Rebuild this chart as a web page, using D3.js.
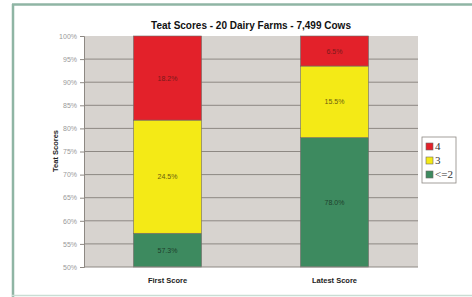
<!DOCTYPE html>
<html><head><meta charset="utf-8">
<script src="https://cdn.jsdelivr.net/npm/d3@7"></script>
<style>html,body{margin:0;padding:0;background:#fff;}svg{display:block;}</style>
</head><body>
<svg id="c" width="472" height="297"></svg>
<script>
const categories = ["First Score", "Latest Score"];
const seriesNames = ["<=2", "3", "4"];
const valuesLe2 = [57.3, 78.0];
const values3 = [24.5, 15.5];
const values4 = [18.2, 6.5];
const labelLe2 = ["57.3%", "78.0%"];
const label3 = ["24.5%", "15.5%"];
const label4 = ["18.2%", "6.5%"];
const yTicks = [50, 55, 60, 65, 70, 75, 80, 85, 90, 95, 100];
const colors = {"<=2": "#3d8a5f", "3": "#f4ea16", "4": "#e3212a"};

const svg = d3.select("#c");
svg.append("rect").attr("x", 0).attr("y", 0).attr("width", 472).attr("height", 297).attr("fill", "#fff");
svg.append("line").attr("x1", 12).attr("x2", 472).attr("y1", 4.5).attr("y2", 4.5).attr("stroke", "#8fb5a4").attr("stroke-width", 2.5);
svg.append("line").attr("x1", 13).attr("x2", 13).attr("y1", 4).attr("y2", 297).attr("stroke", "#8fb5a4").attr("stroke-width", 2.5);
svg.append("line").attr("x1", 12).attr("x2", 472).attr("y1", 295.5).attr("y2", 295.5).attr("stroke", "#c9ddd4").attr("stroke-width", 1.5);

const L = 84, R = 418, T = 36, B = 267;
const y = d3.scaleLinear().domain([50, 100]).range([B, T]);
const x0 = d3.scaleBand().domain(categories).range([L, R]).padding(0);

svg.append("rect").attr("x", L).attr("y", T).attr("width", R - L).attr("height", B - T).attr("fill", "#d7d3cf");

svg.append("g").selectAll("line").data(yTicks.filter(d => d > 50 && d < 100)).join("line")
  .attr("x1", L).attr("x2", R).attr("y1", d => y(d)).attr("y2", d => y(d))
  .attr("stroke", "#8d8883").attr("stroke-width", 1);

const rows = categories.map((c, i) => ({cat: c, "<=2": valuesLe2[i], "3": values3[i], "4": values4[i],
  labels: {"<=2": labelLe2[i], "3": label3[i], "4": label4[i]}}));
const stacked = d3.stack().keys(seriesNames)(rows);
const barW = 68;
const cx = c => x0(c) + x0.bandwidth() / 2;
const segTop = d => y(Math.min(100, d[1]));
const segBot = d => y(Math.max(50, d[0]));

const g = svg.append("g");
stacked.forEach(s => {
  g.selectAll(null).data(s).join("rect")
    .attr("x", d => cx(d.data.cat) - barW / 2)
    .attr("y", segTop)
    .attr("width", barW)
    .attr("height", d => segBot(d) - segTop(d))
    .attr("fill", colors[s.key]).attr("stroke", "#6e6a66").attr("stroke-width", 0.6);
  g.selectAll(null).data(s).join("text")
    .attr("x", d => cx(d.data.cat))
    .attr("y", d => (segTop(d) + segBot(d)) / 2 + 2.5)
    .attr("text-anchor", "middle").attr("font-family", "Arial, Liberation Sans, sans-serif")
    .attr("font-size", 7).attr("fill", s.key === "4" ? "#7a1a1a" : (s.key === "3" ? "#6a6010" : "#1d3f2b"))
    .text(d => d.data.labels[s.key]);
});

const yAxis = d3.axisLeft(y).tickValues(yTicks).tickFormat(d => d + "%").tickSize(4).tickPadding(3);
const ya = svg.append("g").attr("transform", `translate(${L},0)`).call(yAxis);
ya.select(".domain").attr("stroke", "#8d8883");
ya.selectAll(".tick line").attr("stroke", "#8d8883");
ya.selectAll("text").attr("font-family", "Arial, Liberation Sans, sans-serif").attr("font-size", 7).attr("fill", "#999");

svg.append("line").attr("x1", L).attr("x2", R).attr("y1", B).attr("y2", B).attr("stroke", "#8d8883");

svg.append("g").selectAll("text").data(categories).join("text")
  .attr("x", d => cx(d)).attr("y", 283).attr("text-anchor", "middle")
  .attr("font-family", "Arial, Liberation Sans, sans-serif").attr("font-size", 7.5).attr("font-weight", "bold").attr("fill", "#222")
  .text(d => d);

svg.append("text").attr("transform", "translate(58,151) rotate(-90)").attr("text-anchor", "middle")
  .attr("font-family", "Arial, Liberation Sans, sans-serif").attr("font-size", 7.5).attr("font-weight", "bold").attr("fill", "#222")
  .text("Teat Scores");

svg.append("text").attr("x", 251).attr("y", 29).attr("text-anchor", "middle")
  .attr("font-family", "Arial, Liberation Sans, sans-serif").attr("font-size", 10).attr("font-weight", "bold").attr("fill", "#111")
  .text("Teat Scores - 20 Dairy Farms - 7,499 Cows");

const lg = svg.append("g").attr("transform", "translate(422,137)");
lg.append("rect").attr("width", 34).attr("height", 46).attr("fill", "#fff").attr("stroke", "#8d8883").attr("stroke-width", 0.8);
const legItems = ["4", "3", "<=2"];
legItems.forEach((k, i) => {
  lg.append("rect").attr("x", 4).attr("y", 6 + i * 14).attr("width", 7).attr("height", 7)
    .attr("fill", colors[k]).attr("stroke", "#6e6a66").attr("stroke-width", 0.6);
  lg.append("text").attr("x", 13).attr("y", 13 + i * 14)
    .attr("font-family", "Liberation Serif, Times New Roman, serif").attr("font-size", 11).attr("fill", "#333")
    .text(k);
});
</script>
</body></html>
